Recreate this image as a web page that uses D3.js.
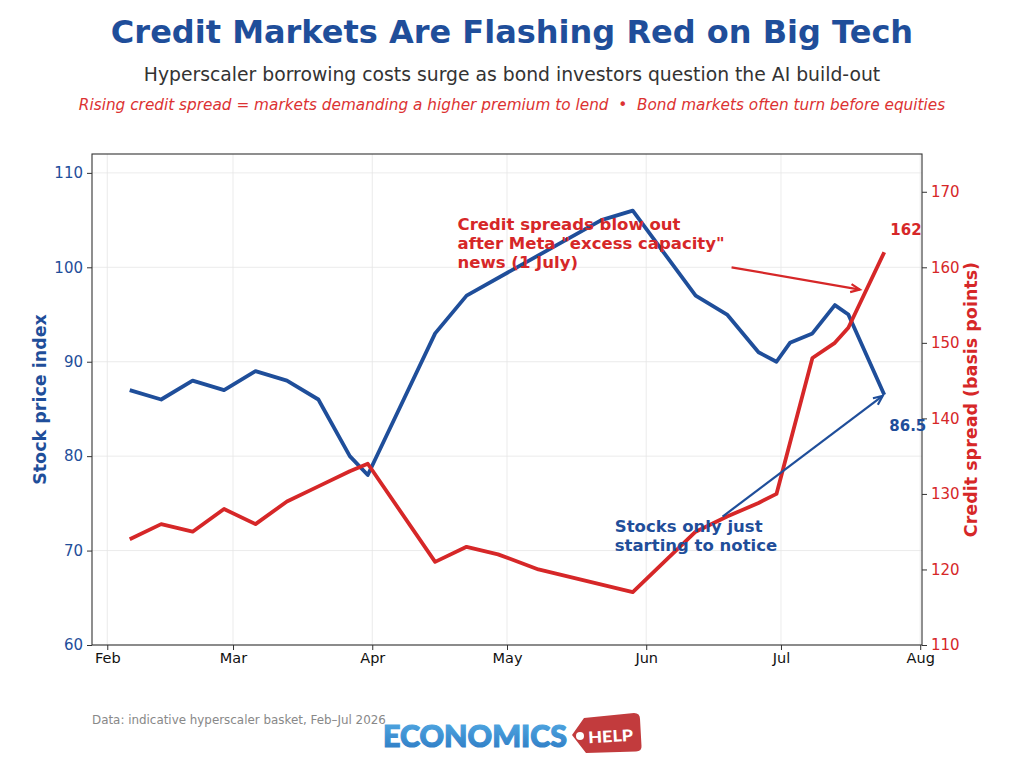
<!DOCTYPE html>
<html>
<head>
<meta charset="utf-8">
<script src="https://cdn.jsdelivr.net/npm/d3@7"></script>
<style>
  html, body { margin: 0; padding: 0; background: #fff; }
  svg { display: block; font-family: "DejaVu Sans", sans-serif; }
</style>
</head>
<body>
<svg id="chart" width="1024" height="768"></svg>
<script>
// ---------------- DATA ----------------
const stockDates = ["2026-02-06","2026-02-13","2026-02-20","2026-02-27","2026-03-06","2026-03-13","2026-03-20","2026-03-27","2026-03-31",
  "2026-04-15","2026-04-22","2026-05-22","2026-05-29","2026-06-12","2026-06-19","2026-06-26","2026-06-30","2026-07-03","2026-07-08",
  "2026-07-13","2026-07-16","2026-07-24"];
const stockValues = [87, 86, 88, 87, 89, 88, 86, 80, 78, 93, 97, 105, 106, 97, 95, 91, 90, 92, 93, 96, 95, 86.5];

const spreadDates = ["2026-02-06","2026-02-13","2026-02-20","2026-02-27","2026-03-06","2026-03-13","2026-03-20","2026-03-27","2026-03-31",
  "2026-04-15","2026-04-22","2026-04-29","2026-05-08","2026-05-29","2026-06-12","2026-06-19","2026-06-26","2026-06-30","2026-07-08",
  "2026-07-13","2026-07-16","2026-07-24"];
const spreadValues = [124, 126, 125, 128, 126, 129, 131, 133, 134, 121, 123, 122, 120, 117, 125, 127, 128.8, 130, 148, 150, 152, 162];

const leftTicks = [60, 70, 80, 90, 100, 110];
const rightTicks = [110, 120, 130, 140, 150, 160, 170];
const monthTickLabels = ["Feb", "Mar", "Apr", "May", "Jun", "Jul", "Aug"];
const monthTickDates = ["2026-02-01","2026-03-01","2026-04-01","2026-05-01","2026-06-01","2026-07-01","2026-08-01"];

const titleText = "Credit Markets Are Flashing Red on Big Tech";
const subtitleText = "Hyperscaler borrowing costs surge as bond investors question the AI build-out";
const noteText = "Rising credit spread = markets demanding a higher premium to lend \u00a0\u2022\u00a0 Bond markets often turn before equities";
const sourceText = "Data: indicative hyperscaler basket, Feb\u2013Jul 2026";
const leftAxisLabel = "Stock price index";
const rightAxisLabel = "Credit spread (basis points)";

const redNoteLines = ["Credit spreads blow out", "after Meta \"excess capacity\"", "news (1 July)"];
const redNoteAnchor = ["2026-04-20", 165];          // date, right-axis value
const redArrow = [["2026-06-20", 160], ["2026-07-19", 157]];
const blueNoteLines = ["Stocks only just", "starting to notice"];
const blueNoteAnchor = ["2026-05-25", 72];          // date, left-axis value
const blueArrow = [["2026-06-18", 73.6], ["2026-07-24", 86.5]];

// ---------------- SETUP ----------------
const BLUE = "#1f4e9a", RED = "#d62728";
const parse = d3.timeParse("%Y-%m-%d");
const stock = stockDates.map((d, i) => ({ date: parse(d), v: stockValues[i] }));
const spread = spreadDates.map((d, i) => ({ date: parse(d), v: spreadValues[i] }));

const plot = { left: 92, right: 922, top: 154, bottom: 645 };
const svg = d3.select("#chart");
svg.append("rect").attr("width", 1024).attr("height", 768).attr("fill", "#fff");

const allDates = stock.map(d => d.date).concat(spread.map(d => d.date));
const [d0, d1] = d3.extent(allDates);
const pad = (d1 - d0) * 0.05;
const x = d3.scaleTime().domain([new Date(+d0 - pad), new Date(+d1 + pad)]).range([plot.left, plot.right]);
const yL = d3.scaleLinear().domain([60, 112]).range([plot.bottom, plot.top]);
const yR = d3.scaleLinear().domain([110, 175]).range([plot.bottom, plot.top]);

// ---------------- TITLES ----------------
svg.append("text").attr("x", 512).attr("y", 43).attr("text-anchor", "middle")
  .attr("font-size", 32).attr("font-weight", "bold").attr("fill", BLUE).text(titleText);
svg.append("text").attr("x", 512).attr("y", 81).attr("text-anchor", "middle")
  .attr("font-size", 18.8).attr("fill", "#333").text(subtitleText);
svg.append("text").attr("x", 512).attr("y", 110).attr("text-anchor", "middle")
  .attr("font-size", 15.3).attr("font-style", "italic").attr("fill", "#dc3232").text(noteText);

// ---------------- GRID ----------------
const grid = svg.append("g");
grid.selectAll("line.h").data(leftTicks).join("line")
  .attr("x1", plot.left).attr("x2", plot.right)
  .attr("y1", d => yL(d)).attr("y2", d => yL(d))
  .attr("stroke", "#e6e6e6").attr("stroke-width", 0.8);
const monthDates = monthTickDates.map(parse);
grid.selectAll("line.v").data(monthDates).join("line")
  .attr("x1", d => x(d)).attr("x2", d => x(d))
  .attr("y1", plot.top).attr("y2", plot.bottom)
  .attr("stroke", "#e6e6e6").attr("stroke-width", 0.8);

// ---------------- LINES ----------------
const lineL = d3.line().x(d => x(d.date)).y(d => yL(d.v));
const lineR = d3.line().x(d => x(d.date)).y(d => yR(d.v));
svg.append("path").datum(stock).attr("d", lineL).attr("fill", "none")
  .attr("stroke", BLUE).attr("stroke-width", 3.8).attr("stroke-linejoin", "round");
svg.append("path").datum(spread).attr("d", lineR).attr("fill", "none")
  .attr("stroke", RED).attr("stroke-width", 3.8).attr("stroke-linejoin", "round");

// ---------------- AXES ----------------
const axL = svg.append("g").attr("transform", `translate(${plot.left},0)`)
  .call(d3.axisLeft(yL).tickValues(leftTicks).tickSize(5).tickPadding(4));
axL.select(".domain").remove();
axL.selectAll("line").attr("stroke", "#333");
axL.selectAll("text").attr("font-size", 15).attr("fill", BLUE).attr("font-family", "DejaVu Sans");

const axR = svg.append("g").attr("transform", `translate(${plot.right},0)`)
  .call(d3.axisRight(yR).tickValues(rightTicks).tickSize(5).tickPadding(4));
axR.select(".domain").remove();
axR.selectAll("line").attr("stroke", "#333");
axR.selectAll("text").attr("font-size", 15).attr("fill", RED).attr("font-family", "DejaVu Sans");

const axB = svg.append("g").attr("transform", `translate(0,${plot.bottom})`)
  .call(d3.axisBottom(x).tickValues(monthDates).tickFormat((d, i) => monthTickLabels[i]).tickSize(5).tickPadding(3));
axB.select(".domain").remove();
axB.selectAll("line").attr("stroke", "#333");
axB.selectAll("text").attr("font-size", 14.5).attr("fill", "#111").attr("font-family", "DejaVu Sans");

// frame
svg.append("rect").attr("x", plot.left).attr("y", plot.top)
  .attr("width", plot.right - plot.left).attr("height", plot.bottom - plot.top)
  .attr("fill", "none").attr("stroke", "#333").attr("stroke-width", 1.1);

// axis titles
svg.append("text").attr("transform", `translate(46,${(plot.top + plot.bottom) / 2}) rotate(-90)`)
  .attr("text-anchor", "middle").attr("font-size", 17.5).attr("font-weight", "bold").attr("fill", BLUE).text(leftAxisLabel);
svg.append("text").attr("transform", `translate(977,${(plot.top + plot.bottom) / 2}) rotate(-90)`)
  .attr("text-anchor", "middle").attr("font-size", 17.5).attr("font-weight", "bold").attr("fill", RED).text(rightAxisLabel);

// ---------------- ANNOTATIONS ----------------
function arrow(p0, p1, color) {
  const dx = p1[0] - p0[0], dy = p1[1] - p0[1];
  const len = Math.hypot(dx, dy), ux = dx / len, uy = dy / len;
  const tip = [p1[0] - ux * 2, p1[1] - uy * 2];
  svg.append("line").attr("x1", p0[0]).attr("y1", p0[1]).attr("x2", tip[0]).attr("y2", tip[1])
    .attr("stroke", color).attr("stroke-width", 2.2);
  const hl = 10, ang = 0.42;
  const a1 = [tip[0] - hl * (ux * Math.cos(ang) - uy * Math.sin(ang)), tip[1] - hl * (uy * Math.cos(ang) + ux * Math.sin(ang))];
  const a2 = [tip[0] - hl * (ux * Math.cos(ang) + uy * Math.sin(ang)), tip[1] - hl * (uy * Math.cos(ang) - ux * Math.sin(ang))];
  svg.append("path").attr("d", `M${a1[0]},${a1[1]} L${tip[0]},${tip[1]} L${a2[0]},${a2[1]}`)
    .attr("fill", "none").attr("stroke", color).attr("stroke-width", 2.2).attr("stroke-linejoin", "miter");
}
arrow([x(parse(redArrow[0][0])), yR(redArrow[0][1])], [x(parse(redArrow[1][0])), yR(redArrow[1][1])], RED);
arrow([x(parse(blueArrow[0][0])), yL(blueArrow[0][1])], [x(parse(blueArrow[1][0])), yL(blueArrow[1][1])], BLUE);

const rn = svg.append("text").attr("font-size", 16.5).attr("font-weight", "bold").attr("fill", RED);
redNoteLines.forEach((t, i) => rn.append("tspan")
  .attr("x", x(parse(redNoteAnchor[0]))).attr("y", yR(redNoteAnchor[1]) + i * 19).text(t));
const bn = svg.append("text").attr("font-size", 16.5).attr("font-weight", "bold").attr("fill", BLUE);
blueNoteLines.forEach((t, i) => bn.append("tspan")
  .attr("x", x(parse(blueNoteAnchor[0]))).attr("y", yL(blueNoteAnchor[1]) + i * 19).text(t));

// end labels
const lastS = spread[spread.length - 1], lastK = stock[stock.length - 1];
svg.append("text").attr("x", x(lastS.date) + 6).attr("y", yR(lastS.v) - 17)
  .attr("font-size", 15).attr("font-weight", "bold").attr("fill", RED).text(String(lastS.v));
svg.append("text").attr("x", x(lastK.date) + 5).attr("y", yL(lastK.v) + 36)
  .attr("font-size", 15).attr("font-weight", "bold").attr("fill", BLUE).text(String(lastK.v));

// ---------------- FOOTER ----------------
svg.append("text").attr("x", 92).attr("y", 724).attr("font-size", 11.9).attr("fill", "#888").text(sourceText);

const defs = svg.append("defs");
const grad = defs.append("linearGradient").attr("id", "logoBlue").attr("x1", 0).attr("y1", 0).attr("x2", 0).attr("y2", 1);
grad.append("stop").attr("offset", "0%").attr("stop-color", "#56aee6");
grad.append("stop").attr("offset", "100%").attr("stop-color", "#2b78c2");
svg.append("text").attr("x", 383).attr("y", 747).attr("font-size", 31).attr("font-weight", "900")
  .attr("font-family", "Lato, 'DejaVu Sans', sans-serif")
  .attr("textLength", 184).attr("lengthAdjust", "spacingAndGlyphs")
  .attr("stroke", "url(#logoBlue)").attr("stroke-width", 1.2)
  .attr("fill", "url(#logoBlue)").text("ECONOMICS");
const tag = svg.append("g");
tag.append("path").attr("d", "M572,735 L584,718 L634,713 Q640,713 640,719 L641.5,746 Q642,751 636,751.5 L586,753 Z")
  .attr("fill", "#c23b3d");
tag.append("circle").attr("cx", 580).attr("cy", 736).attr("r", 4).attr("fill", "#fff");
tag.append("text").attr("x", 588).attr("y", 742).attr("font-size", 16).attr("font-weight", "900")
  .attr("font-family", "Lato, 'DejaVu Sans', sans-serif")
  .attr("textLength", 45).attr("lengthAdjust", "spacingAndGlyphs")
  .attr("transform", "rotate(-3,610,735)")
  .attr("fill", "#fff").text("HELP");
</script>
</body>
</html>
